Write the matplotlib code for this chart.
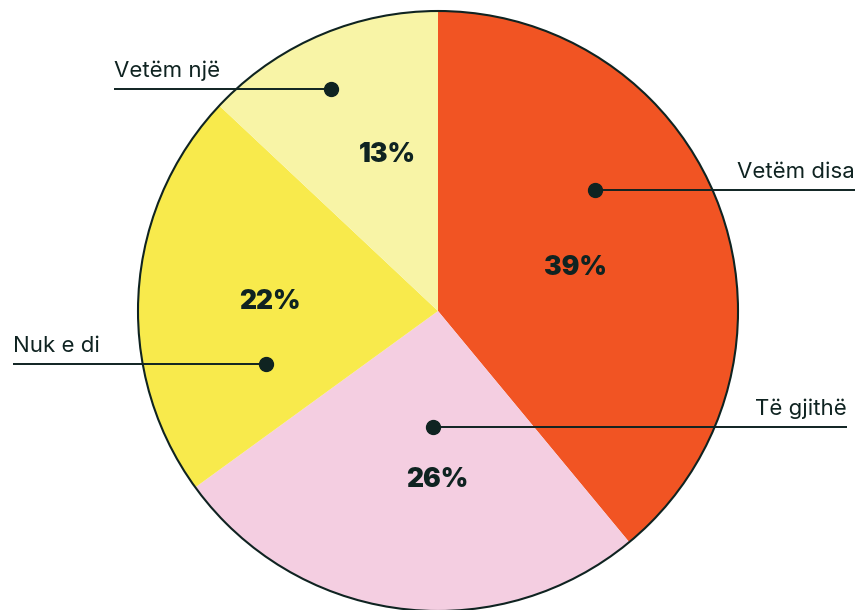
import matplotlib.pyplot as plt

# data, clockwise from 12 o'clock
labels = ["Vetëm disa", "Të gjithë", "Nuk e di", "Vetëm një"]
values = [39, 26, 22, 13]
colors = ["#F15423", "#F4CEE1", "#F8EA4C", "#F8F4A6"]
ink = "#0F2321"

W, H = 857, 610
fig = plt.figure(figsize=(W / 100, H / 100), dpi=100)
ax = fig.add_axes([0, 0, 1, 1])

cx, cy, r = 438, H - 311, 300
wedges, _ = ax.pie(values, colors=colors, startangle=90, counterclock=False,
                   center=(cx, cy), radius=r,
                   wedgeprops=dict(linewidth=0))
# outer rim only
ax.add_patch(plt.Circle((cx, cy), r, fill=False, ec=ink, lw=1.5, zorder=3))

# percent label positions (px, from top-left)
pct_pos = [(575, 268), (437, 480), (270, 302), (387, 155)]
for v, (x, y) in zip(values, pct_pos):
    ax.text(x, H - y, f"{v}%", ha="center", va="center", fontsize=19,
            fontweight=900, family=["Inter", "DejaVu Sans"], color=ink, zorder=5)

# leader lines: dot, line end, text side
leaders = [
    ((595, 190), 855, "right"),
    ((433, 427), 847, "right"),
    ((266, 364), 13, "left"),
    ((331, 89), 114, "left"),
]
for name, ((dx, dy), xend, side) in zip(labels, leaders):
    ax.plot([dx, xend], [H - dy, H - dy], color=ink, lw=1.4, zorder=4, solid_capstyle="butt")
    ax.plot(dx, H - dy, "o", color=ink, ms=10, zorder=4)
    ax.text(xend, H - dy + 8, name, ha=side, va="bottom", fontsize=16,
            family=["Inter", "DejaVu Sans"], color=ink, zorder=5)

ax.set_xlim(0, W)
ax.set_ylim(0, H)
ax.set_aspect("equal")
ax.axis("off")

fig.savefig("out.png", dpi=100, facecolor="white")
